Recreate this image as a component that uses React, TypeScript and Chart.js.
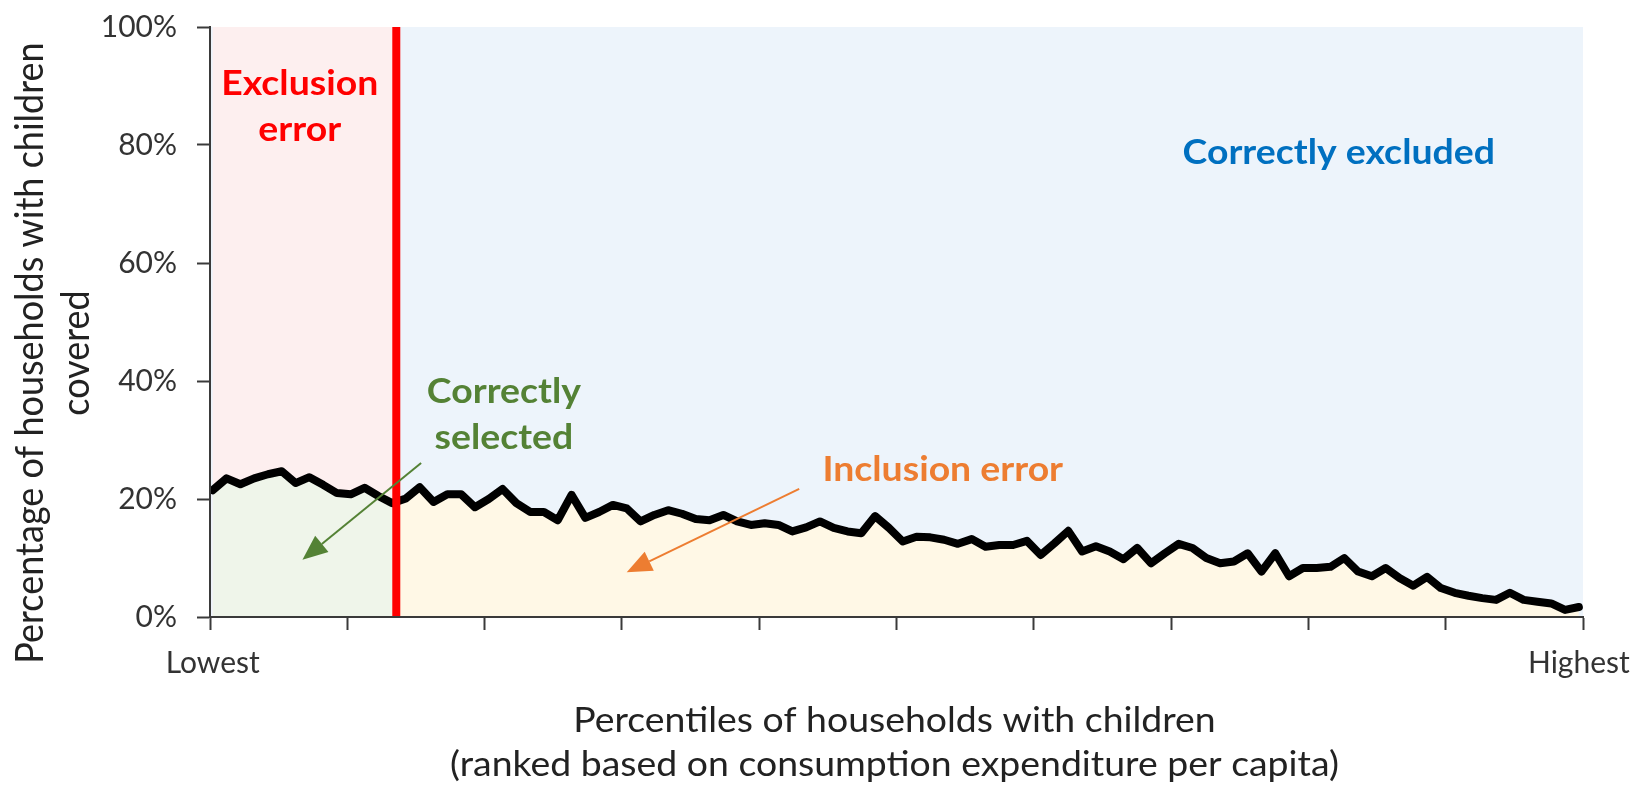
import React, { useEffect, useRef } from "react";
import { Chart, registerables } from "chart.js";

Chart.register(...registerables);

// ---------- data ----------
const percentiles = [
  1, 2, 3, 4, 5, 6, 7, 8, 9, 10, 11, 12, 13, 14, 15, 16, 17, 18, 19, 20,
  21, 22, 23, 24, 25, 26, 27, 28, 29, 30, 31, 32, 33, 34, 35, 36, 37, 38, 39, 40,
  41, 42, 43, 44, 45, 46, 47, 48, 49, 50, 51, 52, 53, 54, 55, 56, 57, 58, 59, 60,
  61, 62, 63, 64, 65, 66, 67, 68, 69, 70, 71, 72, 73, 74, 75, 76, 77, 78, 79, 80,
  81, 82, 83, 84, 85, 86, 87, 88, 89, 90, 91, 92, 93, 94, 95, 96, 97, 98, 99, 100,
];

// % of households with children covered, by percentile
const coverage = [
  21.5, 23.5, 22.5, 23.5, 24.2, 24.7, 22.7, 23.7, 22.4, 21.0,
  20.8, 21.9, 20.5, 19.3, 20.1, 22.0, 19.5, 20.8, 20.8, 18.6,
  20.0, 21.7, 19.3, 17.8, 17.8, 16.4, 20.7, 16.8, 17.8, 19.0,
  18.4, 16.2, 17.3, 18.1, 17.5, 16.6, 16.4, 17.3, 16.2, 15.6,
  15.9, 15.6, 14.5, 15.2, 16.2, 15.1, 14.5, 14.2, 17.1, 15.1,
  12.8, 13.6, 13.5, 13.1, 12.4, 13.2, 11.9, 12.2, 12.2, 12.9,
  10.5, 12.5, 14.6, 11.1, 12.0, 11.1, 9.8, 11.7, 9.1, 10.8,
  12.4, 11.7, 10.0, 9.1, 9.4, 10.8, 7.7, 10.8, 6.9, 8.3,
  8.3, 8.5, 10.0, 7.7, 6.9, 8.3, 6.6, 5.3, 6.8, 4.9,
  4.1, 3.6, 3.2, 2.9, 4.1, 2.9, 2.6, 2.3, 1.2, 1.7,
];

const yTickValues = [0, 20, 40, 60, 80, 100];
const xEndLabels = ["Lowest", "Highest"];
const cutoffPercentile = 14.3;

const yTitleLines = ["Percentage of households with children", "covered"];
const xTitleLines = [
  "Percentiles of households with children",
  "(ranked based on consumption expenditure per capita)",
];

// ---------- styles ----------
const FONT = "Lato, 'Open Sans', sans-serif";
const AXIS_COLOR = "#3a3a3a";
const TICK_TEXT = "#333333";
const TITLE_TEXT = "#222222";
const BLUE_BG = "#EDF4FB";
const PINK_BG = "#FDEFEF";
const GREEN_FILL = "#EFF5EA";
const YELLOW_FILL = "#FFF8E6";
const RED = "#FF0000";
const GREEN_TEXT = "#548235";
const ORANGE = "#ED7D31";
const BLUE_TEXT = "#0070C0";
const TEXT_STRETCH = 1.1;

// annotation anchors in data units (percentile, %)
const regionLabels = [
  { lines: ["Exclusion", "error"], x: 7.3, y: 88.5, color: RED },
  { lines: ["Correctly", "selected"], x: 22.1, y: 36.2, color: GREEN_TEXT },
  { lines: ["Inclusion error"], x: 53.9, y: 23.1, color: ORANGE },
  { lines: ["Correctly excluded"], x: 82.6, y: 76.8, color: BLUE_TEXT },
];

const arrows = [
  { from: [16.1, 26.1], to: [7.5, 9.7], color: GREEN_TEXT },
  { from: [43.5, 21.7], to: [31.0, 7.6], color: ORANGE },
];

function drawArrow(ctx: CanvasRenderingContext2D, x1: number, y1: number, x2: number, y2: number, color: string) {
  const headLen = 25;
  const headW = 21;
  const ang = Math.atan2(y2 - y1, x2 - x1);
  const c = Math.cos(ang);
  const s = Math.sin(ang);
  const bx = x2 - headLen * c;
  const by = y2 - headLen * s;
  ctx.save();
  ctx.strokeStyle = color;
  ctx.fillStyle = color;
  ctx.lineWidth = 2;
  ctx.beginPath();
  ctx.moveTo(x1, y1);
  ctx.lineTo(bx, by);
  ctx.stroke();
  ctx.beginPath();
  ctx.moveTo(x2, y2);
  ctx.lineTo(bx - (headW / 2) * s, by + (headW / 2) * c);
  ctx.lineTo(bx + (headW / 2) * s, by - (headW / 2) * c);
  ctx.closePath();
  ctx.fill();
  ctx.restore();
}

function stretchedText(ctx: CanvasRenderingContext2D, text: string, x: number, y: number) {
  ctx.save();
  ctx.translate(x, y);
  ctx.scale(TEXT_STRETCH, 1);
  ctx.fillText(text, 0, 0);
  ctx.restore();
}

const regionsPlugin = {
  id: "regions",
  beforeDraw(chart: any) {
    const { ctx, chartArea: a, scales } = chart;
    const x = scales.x;
    const xStart = x.getPixelForValue(percentiles[0]);
    const xCut = x.getPixelForValue(cutoffPercentile);
    ctx.save();
    ctx.fillStyle = "#ffffff";
    ctx.fillRect(0, 0, chart.width, chart.height);
    ctx.fillStyle = BLUE_BG;
    ctx.fillRect(a.left, a.top, a.right - a.left, a.bottom - a.top);
    ctx.fillStyle = PINK_BG;
    ctx.fillRect(xStart, a.top, xCut - xStart, a.bottom - a.top);
    ctx.restore();
  },
  afterDatasetsDraw(chart: any) {
    const { ctx, chartArea: a, scales } = chart;
    const x = scales.x;
    const y = scales.y;
    // cutoff line
    const xCut = x.getPixelForValue(cutoffPercentile);
    ctx.save();
    ctx.strokeStyle = RED;
    ctx.lineWidth = 8;
    ctx.beginPath();
    ctx.moveTo(xCut, a.top);
    ctx.lineTo(xCut, a.bottom);
    ctx.stroke();
    ctx.restore();

    arrows.forEach((ar) => {
      drawArrow(
        ctx,
        x.getPixelForValue(ar.from[0]),
        y.getPixelForValue(ar.from[1]),
        x.getPixelForValue(ar.to[0]),
        y.getPixelForValue(ar.to[1]),
        ar.color
      );
    });

    ctx.save();
    ctx.font = `bold 34px ${FONT}`;
    ctx.textAlign = "center";
    ctx.textBaseline = "alphabetic";
    regionLabels.forEach((r) => {
      ctx.fillStyle = r.color;
      const px = x.getPixelForValue(r.x);
      const py = y.getPixelForValue(r.y);
      r.lines.forEach((line, i) => stretchedText(ctx, line, px, py + i * 46));
    });
    ctx.restore();
  },
  afterDraw(chart: any) {
    const { ctx, chartArea: a } = chart;
    ctx.save();
    ctx.fillStyle = TITLE_TEXT;
    ctx.textAlign = "center";
    ctx.textBaseline = "alphabetic";
    // y title (rotated)
    ctx.font = `36px ${FONT}`;
    const cy = (a.top + a.bottom) / 2 + 31;
    yTitleLines.forEach((line, i) => {
      ctx.save();
      ctx.translate(43 + i * 46, cy);
      ctx.rotate(-Math.PI / 2);
      ctx.scale(1, TEXT_STRETCH);
      ctx.fillText(line, 0, 0);
      ctx.restore();
    });
    // x title
    ctx.font = `34px ${FONT}`;
    const cx = (a.left + a.right) / 2 - 2;
    xTitleLines.forEach((line, i) => {
      stretchedText(ctx, line, cx, a.bottom + 115 + i * 44);
    });
    ctx.restore();
  },
};

export default function App() {
  const canvasRef = useRef<HTMLCanvasElement | null>(null);

  useEffect(() => {
    if (!canvasRef.current) return;
    const firstP = percentiles[0];
    const lastP = percentiles[percentiles.length - 1];
    const chart = new Chart(canvasRef.current, {
      type: "line",
      data: {
        datasets: [
          {
            data: percentiles.map((p, i) => ({ x: p, y: coverage[i] })),
            borderColor: "#000000",
            borderWidth: 8,
            borderJoinStyle: "round",
            borderCapStyle: "round",
            pointRadius: 0,
            tension: 0,
            fill: "origin",
            backgroundColor: (context: any) => {
              const c = context.chart;
              const area = c.chartArea;
              if (!area) return GREEN_FILL;
              const xCut = c.scales.x.getPixelForValue(cutoffPercentile);
              const g = c.ctx.createLinearGradient(area.left, 0, area.right, 0);
              const stop = Math.min(1, Math.max(0, (xCut - area.left) / (area.right - area.left)));
              g.addColorStop(0, GREEN_FILL);
              g.addColorStop(stop, GREEN_FILL);
              g.addColorStop(stop, YELLOW_FILL);
              g.addColorStop(1, YELLOW_FILL);
              return g;
            },
          },
        ],
      },
      options: {
        animation: false,
        responsive: true,
        maintainAspectRatio: false,
        layout: { padding: { top: 27, right: 56, bottom: 0, left: 0 } },
        plugins: { legend: { display: false }, tooltip: { enabled: false } },
        scales: {
          x: {
            type: "linear",
            bounds: "data",
            min: 0.8,
            max: 100.3,
            afterBuildTicks: (scale: any) => {
              const marks: { value: number }[] = [];
              for (let k = 0; k <= 10; k++) {
                marks.push({ value: scale.min + (k * (scale.max - scale.min)) / 10 });
              }
              const all = [...marks, { value: firstP }, { value: lastP }];
              all.sort((m, n) => m.value - n.value);
              scale.ticks = all;
            },
            afterFit: (scale: any) => {
              scale.height = 169;
              scale.paddingLeft = 0;
              scale.paddingRight = 0;
            },
            ticks: {
              autoSkip: false,
              maxRotation: 0,
              minRotation: 0,
              padding: 15,
              color: TICK_TEXT,
              font: { family: FONT, size: 30 },
              callback: (v: any) => (v === firstP ? xEndLabels[0] : v === lastP ? xEndLabels[1] : ""),
            },
            grid: {
              drawOnChartArea: false,
              tickLength: 13,
              tickWidth: 2,
              tickColor: (c: any) =>
                c.tick && (c.tick.value === firstP || c.tick.value === lastP) ? "rgba(0,0,0,0)" : AXIS_COLOR,
            },
            border: { color: AXIS_COLOR, width: 2, z: 1 },
          },
          y: {
            min: 0,
            max: 100,
            afterBuildTicks: (scale: any) => {
              scale.ticks = yTickValues.map((v) => ({ value: v }));
            },
            afterFit: (scale: any) => {
              scale.width = 210;
              scale.paddingTop = 0;
              scale.paddingBottom = 0;
            },
            ticks: {
              padding: 20,
              color: TICK_TEXT,
              font: { family: FONT, size: 30 },
              callback: (v: any) => `${v}%`,
            },
            grid: {
              drawOnChartArea: false,
              tickLength: 13,
              tickWidth: 2,
              tickColor: AXIS_COLOR,
            },
            border: { color: AXIS_COLOR, width: 2, z: 1 },
          },
        },
      },
      plugins: [regionsPlugin],
    } as any);
    return () => chart.destroy();
  }, []);

  return (
    <div style={{ position: "fixed", left: 0, top: 0, width: "100vw", height: "100vh", background: "#fff" }}>
      <canvas ref={canvasRef} />
    </div>
  );
}
